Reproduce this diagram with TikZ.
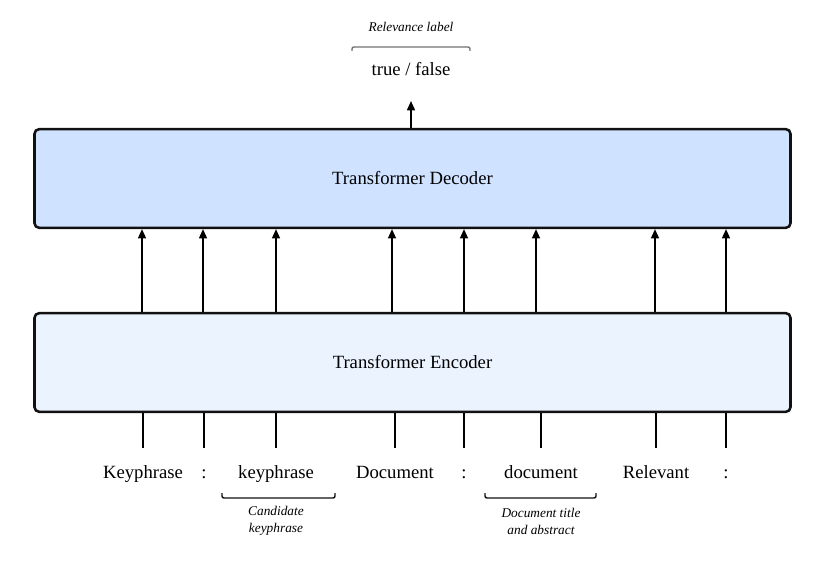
\documentclass[tikz,border=0pt]{standalone}
\usepackage{fontspec}
\setmainfont{Liberation Serif}
\usetikzlibrary{arrows.meta,calc}
\definecolor{decfill}{HTML}{CFE2FF}
\definecolor{encfill}{HTML}{EBF3FF}
\definecolor{edge}{HTML}{111111}
\begin{document}
\begin{tikzpicture}[x=0.75pt,y=-0.75pt,
  box/.style={draw=edge, line width=1.9pt, rounded corners=3.5pt, minimum width=567pt, minimum height=74pt, inner sep=0pt, font=\fontsize{14}{16}\selectfont},
  tok/.style={font=\fontsize{14}{16}\selectfont, inner sep=0pt, anchor=base},
  note/.style={font=\fontsize{10}{12.75}\selectfont\itshape, align=center, inner sep=0pt},
  arr/.style={draw=black, line width=1.2pt, -{Triangle[width=6pt,length=7pt]}},
  stem/.style={draw=black, line width=1.2pt},
  brk/.style={draw=edge, line width=1.1pt, rounded corners=1.5pt}]
\useasboundingbox (0,0) rectangle (831,566);
\fill[white] (0,0) rectangle (831,566);
% boxes
\node[box, fill=decfill] (dec) at (412.5,178.5) {Transformer Decoder};
\node[box, fill=encfill] (enc) at (412.5,362.5) {Transformer Encoder};
% tokens
\node[tok] (t1) at (143,478) {Keyphrase};
\node[tok] (t2) at (204,478) {:};
\node[tok] (t3) at (276,478) {keyphrase};
\node[tok] (t4) at (395,478) {Document};
\node[tok] (t5) at (464,478) {:};
\node[tok] (t6) at (541,478) {document};
\node[tok] (t7) at (656,478) {Relevant};
\node[tok] (t8) at (726,478) {:};
% stems below encoder
\foreach \t in {t1,t2,t3,t4,t5,t6,t7,t8}{
  \draw[stem] (enc.south -| \t) -- ++(0,35);
}
% arrows encoder -> decoder
\draw[arr] ($(enc.north -| t1)+(-1,0)$) -- ($(dec.south -| t1)+(-1,0)$);
\draw[arr] ($(enc.north -| t2)+(-1,0)$) -- ($(dec.south -| t2)+(-1,0)$);
\draw[arr] (enc.north -| t3) -- (dec.south -| t3);
\draw[arr] ($(enc.north -| t4)+(-3,0)$) -- ($(dec.south -| t4)+(-3,0)$);
\draw[arr] (enc.north -| t5) -- (dec.south -| t5);
\draw[arr] ($(enc.north -| t6)+(-5,0)$) -- ($(dec.south -| t6)+(-5,0)$);
\draw[arr] ($(enc.north -| t7)+(-1,0)$) -- ($(dec.south -| t7)+(-1,0)$);
\draw[arr] (enc.north -| t8) -- (dec.south -| t8);
% output
\node[tok] (tf) at (411,76) {true / false};
\node[note, anchor=base] (rl) at (411,32) {Relevance label};
\draw[arr] ($(dec.north)+(-1.5,0)$) -- ($(tf.base)+(0,25)$);
\draw[brk, draw=black!55] ($(rl.base)+(-59,19)$) -- ++(0,-4) -- ++(118,0) -- ++(0,4);
% input brackets and notes
\draw[brk] ($(t3.base)+(-54,15)$) -- ++(0,5) -- ++(113,0) -- ++(0,-5);
\node[note] (n1) at (276,521) {Candidate\\keyphrase};
\draw[brk] ($(t6.base)+(-56,15)$) -- ++(0,5) -- ++(111,0) -- ++(0,-5);
\node[note] (n2) at (541,521) {Document title\\and abstract};
\end{tikzpicture}
\end{document}
